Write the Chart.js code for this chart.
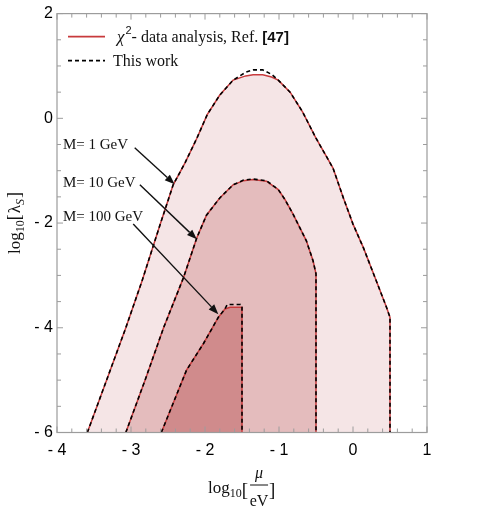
<!DOCTYPE html>
<html>
<head>
<meta charset="utf-8">
<script src="https://cdn.jsdelivr.net/npm/chart.js@4.4.1/dist/chart.umd.min.js"></script>
<style>
  html, body { margin: 0; padding: 0; background: #fff; }
  #wrap { width: 498px; height: 507px; }
</style>
</head>
<body>
<div id="wrap"><canvas id="myChart" width="498" height="507"></canvas></div>
<script>
// M = 1 GeV region
const outerX = [-3.59, -3.33, -3.07, -2.85, -2.60, -2.43, -2.27, -2.11, -1.97, -1.80, -1.62, -1.45, -1.35, -1.22, -1.10, -1.01, -0.85, -0.68, -0.50, -0.27, -0.13, 0.00, 0.14, 0.30, 0.45, 0.50, 0.50];
const outerY = [-6, -5.0, -4.0, -3.1, -2.0, -1.27, -0.85, -0.38, 0.07, 0.445, 0.73, 0.81, 0.83, 0.83, 0.79, 0.73, 0.50, 0.12, -0.38, -0.95, -1.52, -2.02, -2.47, -3.05, -3.60, -3.80, -6];
const outerDashY = [-6, -5.0, -4.0, -3.1, -2.0, -1.27, -0.85, -0.38, 0.07, 0.445, 0.73, 0.88, 0.925, 0.925, 0.84, 0.73, 0.50, 0.12, -0.38, -0.95, -1.52, -2.02, -2.47, -3.05, -3.60, -3.80, -6];

// M = 10 GeV region
const midX = [-3.07, -2.81, -2.56, -2.29, -2.11, -1.98, -1.80, -1.62, -1.48, -1.35, -1.17, -1.01, -0.92, -0.81, -0.63, -0.54, -0.50, -0.50];
const midY = [-6, -5.0, -4.0, -3.04, -2.28, -1.85, -1.52, -1.27, -1.19, -1.17, -1.20, -1.36, -1.55, -1.83, -2.34, -2.72, -2.97, -6];
const midDashY = [-6, -5.0, -4.0, -3.04, -2.28, -1.85, -1.52, -1.27, -1.18, -1.16, -1.19, -1.36, -1.55, -1.83, -2.34, -2.72, -2.97, -6];

// M = 100 GeV region
const innerX = [-2.59, -2.43, -2.25, -2.02, -1.82, -1.73, -1.66, -1.50, -1.50];
const innerY = [-6, -5.44, -4.81, -4.30, -3.80, -3.64, -3.61, -3.61, -6];
const innerDashX = [-2.59, -2.43, -2.25, -2.02, -1.82, -1.73, -1.70, -1.52, -1.50, -1.50];
const innerDashY = [-6, -5.44, -4.81, -4.30, -3.80, -3.64, -3.555, -3.555, -3.58, -6];

const xTicks = [-4, -3, -2, -1, 0, 1];
const yTicks = [-6, -4, -2, 0, 2];

const massLabels = ['M= 1 GeV', 'M= 10 GeV', 'M= 100 GeV'];
const massLabelX = [-3.92, -3.92, -3.92];
const massLabelY = [-0.52, -1.24, -1.89];
const arrowFrom = [[-2.95, -0.56], [-2.88, -1.27], [-2.97, -2.02]];
const arrowTo = [[-2.41, -1.26], [-2.11, -2.31], [-1.82, -3.74]];

const RED = '#c83a3c';
const SERIF = '"Liberation Serif", "DejaVu Serif", serif';
const SANS = '"Liberation Sans", Arial, sans-serif';

function pts(xs, ys) {
  return xs.map((x, i) => ({ x: x, y: ys[i] }));
}

function fmtTick(v) {
  return v < 0 ? '- ' + Math.abs(v) : String(v);
}

function drawPieces(ctx, pieces, x0, y0) {
  let x = x0;
  pieces.forEach(p => {
    ctx.font = p.font;
    ctx.fillText(p.t, x, y0 + (p.dy || 0));
    x += ctx.measureText(p.t).width + (p.gap || 0);
  });
}

function piecesWidth(ctx, pieces) {
  let w = 0;
  pieces.forEach(p => { ctx.font = p.font; w += ctx.measureText(p.t).width + (p.gap || 0); });
  return w;
}

const decor = {
  id: 'decor',
  afterDatasetsDraw(chart) {
    const ctx = chart.ctx;
    const a = chart.chartArea;
    const xs = chart.scales.x, ys = chart.scales.y;
    ctx.save();

    // frame
    ctx.strokeStyle = '#9c9c9c';
    ctx.lineWidth = 1.2;
    ctx.strokeRect(a.left, a.top, a.right - a.left, a.bottom - a.top);

    // inward ticks, all four sides
    ctx.lineWidth = 1;
    ctx.beginPath();
    for (let i = 0; i <= 25; i++) {
      const v = -4 + i * 0.2;
      const px = xs.getPixelForValue(v);
      const len = (i % 5 === 0) ? 6 : 4;
      ctx.moveTo(px, a.bottom); ctx.lineTo(px, a.bottom - len);
      ctx.moveTo(px, a.top); ctx.lineTo(px, a.top + len);
    }
    for (let i = 0; i <= 16; i++) {
      const v = -6 + i * 0.5;
      const py = ys.getPixelForValue(v);
      const len = (i % 4 === 0) ? 6 : 4;
      ctx.moveTo(a.left, py); ctx.lineTo(a.left + len, py);
      ctx.moveTo(a.right, py); ctx.lineTo(a.right - len, py);
    }
    ctx.stroke();

    // mass labels and arrows
    ctx.fillStyle = '#111';
    ctx.strokeStyle = '#111';
    ctx.textBaseline = 'middle';
    ctx.font = '15px ' + SERIF;
    massLabels.forEach((t, i) => {
      ctx.fillText(t, xs.getPixelForValue(massLabelX[i]), ys.getPixelForValue(massLabelY[i]));
      const x1 = xs.getPixelForValue(arrowFrom[i][0]), y1 = ys.getPixelForValue(arrowFrom[i][1]);
      const x2 = xs.getPixelForValue(arrowTo[i][0]), y2 = ys.getPixelForValue(arrowTo[i][1]);
      const ang = Math.atan2(y2 - y1, x2 - x1);
      const hl = 10, hw = 3.8;
      ctx.lineWidth = 1.4;
      ctx.beginPath();
      ctx.moveTo(x1, y1);
      ctx.lineTo(x2 - hl * Math.cos(ang), y2 - hl * Math.sin(ang));
      ctx.stroke();
      ctx.beginPath();
      ctx.moveTo(x2, y2);
      ctx.lineTo(x2 - hl * Math.cos(ang) + hw * Math.sin(ang), y2 - hl * Math.sin(ang) - hw * Math.cos(ang));
      ctx.lineTo(x2 - hl * Math.cos(ang) - hw * Math.sin(ang), y2 - hl * Math.sin(ang) + hw * Math.cos(ang));
      ctx.closePath();
      ctx.fill();
    });

    // legend
    const lx = a.left + 11, ly1 = a.top + 23, ly2 = a.top + 47;
    ctx.lineWidth = 1.6;
    ctx.strokeStyle = RED;
    ctx.beginPath(); ctx.moveTo(lx, ly1); ctx.lineTo(lx + 37, ly1); ctx.stroke();
    ctx.strokeStyle = '#000';
    ctx.setLineDash([4, 3]);
    ctx.beginPath(); ctx.moveTo(lx, ly2); ctx.lineTo(lx + 37, ly2); ctx.stroke();
    ctx.setLineDash([]);
    ctx.fillStyle = '#111';
    ctx.textBaseline = 'alphabetic';
    drawPieces(ctx, [
      { t: 'χ', font: 'italic 17px ' + SERIF, gap: 1 },
      { t: '2', font: '11px ' + SANS, dy: -8 },
      { t: '- data analysis, Ref. ', font: '16px ' + SERIF },
      { t: '[47]', font: 'bold 15px ' + SANS }
    ], lx + 49, ly1 + 5);
    drawPieces(ctx, [{ t: 'This work', font: '16px ' + SERIF }], lx + 45, ly2 + 5);

    // x axis title
    const cx = (a.left + a.right) / 2;
    const tx = cx - 34, tb = a.bottom + 60;
    drawPieces(ctx, [
      { t: 'log', font: '17px ' + SERIF },
      { t: '10', font: '12px ' + SERIF, dy: 4 },
      { t: '[', font: '19px ' + SERIF, dy: 3 }
    ], tx, tb);
    const fx = tx + piecesWidth(ctx, [
      { t: 'log', font: '17px ' + SERIF },
      { t: '10', font: '12px ' + SERIF },
      { t: '[', font: '19px ' + SERIF }
    ]) + 2;
    ctx.textAlign = 'center';
    ctx.font = 'italic 16px ' + SERIF;
    ctx.fillText('μ', fx + 9, tb - 15);
    ctx.font = '16px ' + SERIF;
    ctx.fillText('eV', fx + 9, tb + 13);
    ctx.textAlign = 'left';
    ctx.lineWidth = 1;
    ctx.strokeStyle = '#111';
    ctx.beginPath(); ctx.moveTo(fx, tb - 7.5); ctx.lineTo(fx + 18, tb - 7.5); ctx.stroke();
    ctx.font = '19px ' + SERIF;
    ctx.fillText(']', fx + 19, tb + 3);

    // y axis title
    const yp = [
      { t: 'log', font: '17px ' + SERIF },
      { t: '10', font: '12px ' + SERIF, dy: 4 },
      { t: '[', font: '18px ' + SERIF, gap: 1 },
      { t: 'λ', font: '17px ' + SERIF },
      { t: 'S', font: 'italic 12px ' + SERIF, dy: 4, gap: 1 },
      { t: ']', font: '18px ' + SERIF }
    ];
    ctx.translate(15, (a.top + a.bottom) / 2);
    ctx.rotate(-Math.PI / 2);
    drawPieces(ctx, yp, -piecesWidth(ctx, yp) / 2, 5);

    ctx.restore();
  }
};

const ctx = document.getElementById('myChart');

new Chart(ctx, {
  type: 'line',
  data: {
    datasets: [
      { data: pts(innerDashX, innerDashY), borderColor: '#000', borderWidth: 1.6, borderDash: [4, 3], fill: false },
      { data: pts(innerX, innerY), borderColor: RED, borderWidth: 1.5, backgroundColor: '#d08b8c', fill: 'start' },
      { data: pts(midX, midDashY), borderColor: '#000', borderWidth: 1.6, borderDash: [4, 3], fill: false },
      { data: pts(midX, midY), borderColor: RED, borderWidth: 1.5, backgroundColor: '#e4bcbd', fill: 'start' },
      { data: pts(outerX, outerDashY), borderColor: '#000', borderWidth: 1.6, borderDash: [4, 3], fill: false },
      { data: pts(outerX, outerY), borderColor: RED, borderWidth: 1.5, backgroundColor: '#f5e5e6', fill: 'start' }
    ]
  },
  options: {
    responsive: false,
    animation: false,
    events: [],
    layout: { padding: { top: 12, right: 71, left: 0, bottom: 0 } },
    elements: { point: { radius: 0 }, line: { tension: 0 } },
    plugins: { legend: { display: false }, tooltip: { enabled: false } },
    scales: {
      x: {
        type: 'linear',
        min: -4, max: 1,
        afterFit(scale) { scale.height = 74.5; },
        afterBuildTicks(scale) { scale.ticks = xTicks.map(v => ({ value: v })); },
        grid: { display: false, drawTicks: false },
        border: { display: false },
        ticks: { padding: 8, color: '#000', font: { family: SANS, size: 16 }, callback: fmtTick, maxRotation: 0 }
      },
      y: {
        type: 'linear',
        min: -6, max: 2,
        afterFit(scale) { scale.width = 57; },
        afterBuildTicks(scale) { scale.ticks = yTicks.map(v => ({ value: v })); },
        grid: { display: false, drawTicks: false },
        border: { display: false },
        ticks: { padding: 4, color: '#000', font: { family: SANS, size: 16 }, callback: fmtTick }
      }
    }
  },
  plugins: [decor]
});
</script>
</body>
</html>
